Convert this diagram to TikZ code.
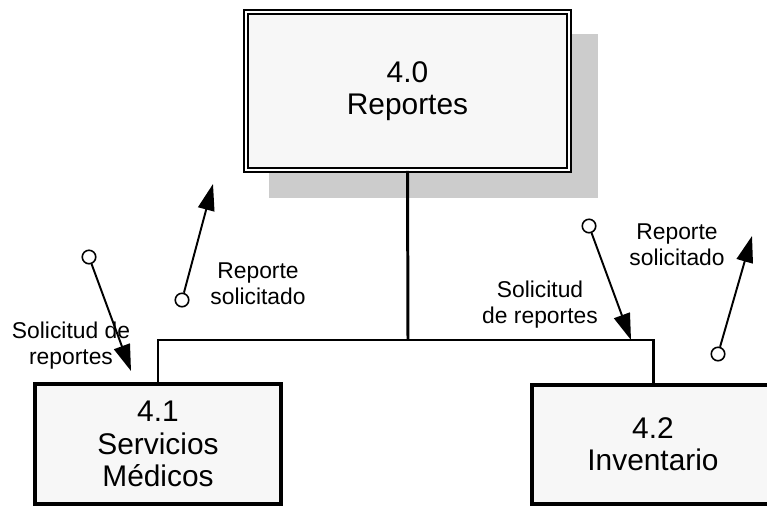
\documentclass[tikz,border=0pt]{standalone}
\usepackage{fontspec}
\setmainfont{Liberation Sans}
\usetikzlibrary{arrows.meta}
\definecolor{boxfill}{HTML}{F7F7F7}
\definecolor{shadowgray}{HTML}{CCCCCC}
\tikzset{
  procbox/.style={draw, fill=boxfill, align=center, font=\fontsize{17}{18.3}\selectfont},
  port/.style={circle, draw, fill=white, line width=0.9pt, inner sep=0pt, minimum size=0.27cm},
  flow/.style={line width=1.1pt, -{Triangle[length=15pt,width=9.5pt]}},
  tree/.style={line width=1.7pt},
  lbl/.style={align=center, font=\fontsize{13}{14.7}\selectfont}
}
\begin{document}
\begin{tikzpicture}[x=0.02cm, y=-0.02cm]
\useasboundingbox (0,0) rectangle (767,507);
% shadow of the top process
\fill[shadowgray] (269,34) rectangle (598,198);
\node[procbox, line width=0.9pt, double=white, double distance=1.6pt,
  minimum width=6.46cm, minimum height=3.16cm] (reportes) at (407.5,91) {4.0\\Reportes};
\node[procbox, line width=2.3pt, minimum width=4.92cm, minimum height=2.4cm] (servicios) at (158,444) {4.1\\Servicios\\M\'edicos};
\node[procbox, line width=2.3pt, minimum width=5.0cm, minimum height=2.38cm] (inventario) at (657,444.5) {\hspace*{-0.16cm}4.2\\\hspace*{-0.16cm}Inventario};
\coordinate (bus) at (408,340);
\draw[tree] (reportes.south) -- (bus);
\draw[tree] (bus) -| ([xshift=-0.08cm]inventario.north);
\draw[tree] (bus) -| (servicios.north);
% data flows
\node[port] (p1) at (89,257) {};
\node[port] (p2) at (182,300) {};
\node[port] (p3) at (589,226) {};
\node[port] (p4) at (718,354) {};
\coordinate (t1) at (131,371);
\coordinate (t2) at (213,184);
\coordinate (t3) at (631,340);
\coordinate (t4) at (752,236);
\draw[flow] (p1) -- (t1);
\draw[flow] (p2) -- (t2);
\draw[flow] (p3) -- (t3);
\draw[flow] (p4) -- (t4);
\node[lbl] (l1) at (71,346) {Solicitud de\\reportes};
\node[lbl] (l2) at (258,284) {Reporte\\solicitado};
\node[lbl] (l3) at (540,305) {Solicitud\\de reportes};
\node[lbl] (l4) at (677,245) {Reporte\\solicitado};
\end{tikzpicture}
\end{document}
